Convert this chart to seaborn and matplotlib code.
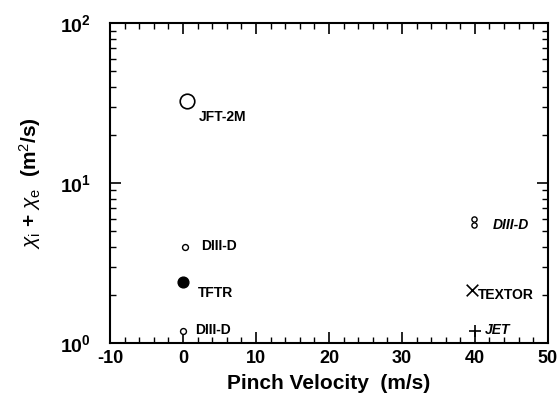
import matplotlib
matplotlib.use("Agg")
import matplotlib.pyplot as plt
import seaborn as sns
import pandas as pd
from matplotlib.ticker import MultipleLocator, LogLocator, NullFormatter, FixedLocator

sns.set_theme(style="ticks")
plt.rcParams['font.family'] = ['Liberation Sans', 'DejaVu Sans']
plt.rcParams['mathtext.fontset'] = 'custom'
plt.rcParams['mathtext.rm'] = 'Liberation Sans'
plt.rcParams['mathtext.it'] = 'Liberation Sans:italic'
plt.rcParams['mathtext.bf'] = 'Liberation Sans:bold'

# Data
devices = ["JFT-2M", "DIII-D", "TFTR", "DIII-D", "DIII-D", "DIII-D", "TEXTOR", "JET"]
pinch_velocity = [0.5, 0.3, 0.0, 0.0, 39.9, 39.9, 39.6, 40.0]
chi_total = [32.5, 4.0, 2.4, 1.19, 6.0, 5.45, 2.14, 1.19]
point_group = ["jft", "d1", "tftr", "d2", "d3", "d3", "textor", "jet"]

label_text = ["JFT-2M", "DIII-D", "TFTR", "DIII-D", "DIII-D", "TEXTOR", "JET"]
label_x = [2.2, 2.5, 2.0, 1.7, 42.5, 40.4, 41.3]
label_y = [25.8, 4.05, 2.05, 1.21, 5.5, 2.0, 1.21]

x_ticks = [-10, 0, 10, 20, 30, 40, 50]
y_ticks = [1, 10, 100]
y_ticklabels = [r"$\mathbf{10^0}$", r"$\mathbf{10^1}$", r"$\mathbf{10^2}$"]

df = pd.DataFrame({"device": devices, "v": pinch_velocity, "chi": chi_total, "grp": point_group})

marker_style = {
    "jft": dict(marker="o", s=110, facecolor="white", edgecolor="black", linewidth=1.2),
    "d1": dict(marker="o", s=18, facecolor="white", edgecolor="black", linewidth=1.0),
    "tftr": dict(marker="o", s=60, facecolor="black", edgecolor="black", linewidth=1.0),
    "d2": dict(marker="o", s=18, facecolor="white", edgecolor="black", linewidth=1.0),
    "d3": dict(marker="o", s=14, facecolor="white", edgecolor="black", linewidth=1.0),
    "textor": dict(marker="x", s=70, color="black", linewidth=1.2),
    "jet": dict(marker="+", s=70, color="black", linewidth=1.2),
}

fig = plt.figure(figsize=(5.59, 4.07), dpi=100)
ax = fig.add_axes([0.197, 0.157, 0.783, 0.786])

for g, sub in df.groupby("grp", sort=False):
    sns.scatterplot(data=sub, x="v", y="chi", ax=ax, legend=False, zorder=3, **marker_style[g])

ax.set_yscale("log")
ax.set_xlim(-10, 50)
ax.set_ylim(1, 100)

label_styles = ["normal", "normal", "normal", "normal", "italic", "normal", "italic"]
for t, lx, ly, st in zip(label_text, label_x, label_y, label_styles):
    ax.text(lx, ly, t, fontsize=10, fontweight="bold", fontstyle=st, va="center", ha="left", color="black")

ax.xaxis.set_major_locator(FixedLocator(x_ticks))
ax.xaxis.set_minor_locator(MultipleLocator(2))
ax.yaxis.set_major_locator(FixedLocator(y_ticks))
ax.yaxis.set_minor_locator(LogLocator(base=10, subs=range(2, 10)))
ax.yaxis.set_minor_formatter(NullFormatter())
ax.set_yticklabels(y_ticklabels)
ax.set_xticklabels([str(v) for v in x_ticks])

ax.tick_params(which="both", direction="in", top=True, right=True, color="black")
ax.tick_params(which="major", length=8, width=1.2)
ax.tick_params(which="minor", length=4, width=1.0)
ax.tick_params(axis="x", labelsize=13, pad=5, labelcolor="black")
ax.tick_params(axis="y", labelsize=14, pad=14, labelcolor="black")
for lab in ax.get_xticklabels() + ax.get_yticklabels():
    lab.set_fontweight("bold")

for sp in ax.spines.values():
    sp.set_color("black")
    sp.set_linewidth(1.5)

ax.set_xlabel("Pinch Velocity  (m/s)", fontsize=15, fontweight="bold", color="black", labelpad=5)
ax.set_ylabel(r"$\chi_\mathrm{i}$ + $\chi_\mathrm{e}$  (m$^2$/s)", fontsize=15, fontweight="bold", color="black", labelpad=12)
ax.set_facecolor("white")
fig.patch.set_facecolor("white")

fig.savefig("out.png", dpi=100, facecolor="white")
